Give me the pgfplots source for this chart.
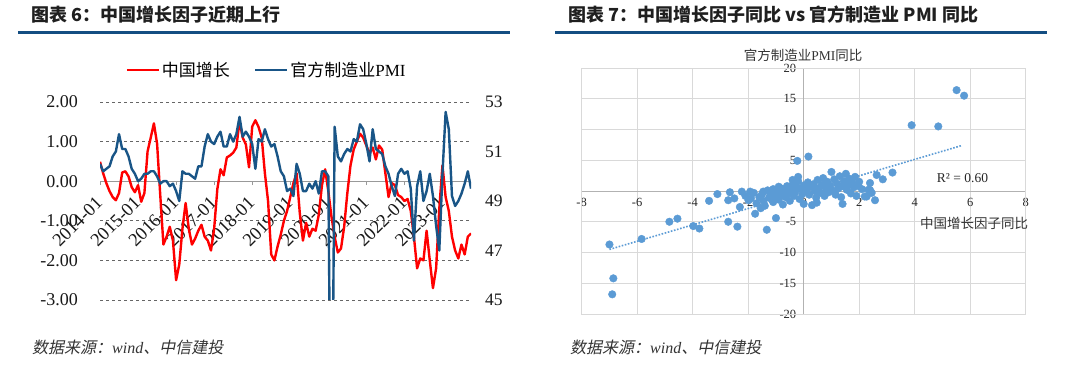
\documentclass[border=0pt]{standalone}
\usepackage{fontspec}
\setmainfont{Liberation Serif}
\newfontfamily\cjk{Noto Sans CJK SC}
\newfontfamily\cjkit{Noto Sans CJK SC}[FakeSlant=0.2]
\usepackage{pgfplots}
\pgfplotsset{compat=1.18}
\usepackage{pgfplotstable}
\definecolor{cred}{RGB}{255,0,0}
\definecolor{cblue}{RGB}{25,85,135}
\definecolor{rulec}{RGB}{20,78,130}
\definecolor{sblue}{RGB}{91,155,213}

\pgfplotstableread{
m g
0 0.49
1 0.20
2 -0.05
3 -0.25
4 -0.40
5 -0.48
6 -0.30
7 0.22
8 0.25
9 0.12
10 -0.15
11 -0.28
12 -0.10
13 -0.52
14 -0.30
15 0.75
16 1.10
17 1.46
18 0.95
19 -0.35
20 -1.60
21 -1.40
22 -1.15
23 -1.50
24 -2.50
25 -2.10
26 -1.20
27 -0.55
28 -1.20
29 -1.60
30 -1.45
31 -1.25
32 -1.10
33 -1.40
34 -1.50
35 -1.75
36 -1.20
37 -0.20
38 0.30
39 0.15
40 0.60
41 0.65
42 0.72
43 0.85
44 1.52
45 1.10
46 0.93
47 0.35
48 1.38
49 1.54
50 1.37
51 1.10
52 0.20
53 -0.50
54 -1.85
55 -2.00
56 -1.65
57 -1.35
58 -1.00
59 -0.75
60 -0.40
61 -0.05
62 0.20
63 -0.80
64 -1.50
65 -1.05
66 -1.40
67 -1.20
68 -1.25
69 -0.85
70 -0.10
71 0.30
72 -0.25
73 -0.90
74 -1.40
75 -1.80
76 -1.70
77 -1.15
78 -0.30
79 0.40
80 0.80
81 1.00
82 1.20
83 1.10
84 0.90
85 0.70
86 0.85
87 0.55
88 0.90
89 0.80
90 0.20
91 -0.40
92 -0.05
93 -0.10
94 -0.35
95 -0.40
96 -0.50
97 -0.45
98 -0.75
99 -1.40
100 -2.20
101 -1.95
102 -2.00
103 -1.25
104 -2.00
105 -2.70
106 -2.20
107 -0.70
108 0.40
109 -0.40
110 -0.75
111 -1.40
112 -1.75
113 -1.95
114 -1.60
115 -1.85
116 -1.40
117 -1.32
}\growth

\pgfplotstableread{
m p
0 50.5
1 50.2
2 50.3
3 50.4
4 50.8
5 51.0
6 51.7
7 51.1
8 51.1
9 50.8
10 50.3
11 50.1
12 49.8
13 49.9
14 50.1
15 50.1
16 50.2
17 50.2
18 50.0
19 49.7
20 49.8
21 49.8
22 49.6
23 49.7
24 49.4
25 49.0
26 50.2
27 50.1
28 50.1
29 50.0
30 49.9
31 50.4
32 50.4
33 51.2
34 51.7
35 51.4
36 51.3
37 51.6
38 51.8
39 51.2
40 51.2
41 51.7
42 51.4
43 51.7
44 52.4
45 51.6
46 51.8
47 51.6
48 51.3
49 50.3
50 51.5
51 51.4
52 51.9
53 51.5
54 51.2
55 51.3
56 50.8
57 50.2
58 50.0
59 49.4
60 49.5
61 49.2
62 50.5
63 50.1
64 49.4
65 49.4
66 49.7
67 49.5
68 49.8
69 49.3
70 50.2
71 50.2
72 50.0
73 35.7
74 52.0
75 50.8
76 50.6
77 50.9
78 51.1
79 51.0
80 51.5
81 51.4
82 52.1
83 51.9
84 51.3
85 50.6
86 51.9
87 51.1
88 51.0
89 50.9
90 50.4
91 50.1
92 49.6
93 49.2
94 50.1
95 50.3
96 50.1
97 50.2
98 49.5
99 47.4
100 49.6
101 50.2
102 49.0
103 49.4
104 50.1
105 49.2
106 48.0
107 47.0
108 50.1
109 52.6
110 51.9
111 49.2
112 48.8
113 49.0
114 49.3
115 49.7
116 50.2
117 49.5
}\pmi

\pgfplotstableread{
x y
-7.0 -8.7
-6.86 -14.2
-6.9 -16.8
-5.84 -7.8
-4.84 -5.0
-4.55 -4.5
-3.98 -5.7
-3.76 -6.1
-3.41 -1.6
-3.11 -0.5
-2.72 -1.5
-2.66 -0.2
-2.72 -5.0
-2.39 -5.8
-2.3 -2.6
-2.23 -0.1
-1.93 -0.1
-1.99 -1.5
-1.75 -3.7
-1.33 -6.3
-1.0 -4.4
-0.23 4.9
0.17 5.6
5.51 16.4
5.78 15.5
3.89 10.7
4.85 10.5
3.2 3.0
2.85 1.9
2.63 2.6
2.57 -1.5
1.0 3.1
1.4 -2.1
2.39 0.16
2.27 -0.9
-2.5 -1.2
-1.55 -2.8
-2.1 -0.8
-1.9 -1.2
-1.8 -0.3
-1.7 -2.0
-1.6 -1.0
-1.5 -0.5
-1.45 -1.6
-1.4 -2.4
-1.46 -0.1
-1.3 0.1
-1.25 -1.1
-1.2 -0.6
-1.1 -1.8
-1.1 0.3
-1.05 0.2
-1.0 -0.9
-0.95 -0.2
-0.9 -1.4
-0.9 0.7
-0.85 0.5
-0.8 -0.5
-0.75 -2.2
-0.7 0.3
-0.65 -1.0
-0.6 0.8
-0.55 -0.4
-0.5 -1.6
-0.5 0.5
-0.45 0.1
-0.4 1.0
-0.4 1.8
-0.35 -0.8
-0.3 -0.1
-0.25 0.6
-0.2 1.6
-0.2 2.3
-0.15 -1.3
-0.1 0.4
-0.05 -0.5
0.0 0.9
0.0 -2.1
0.1 0.2
0.15 1.4
0.2 -0.6
0.25 0.7
0.3 -2.3
0.35 1.1
0.4 0.0
0.45 -1.1
0.47 -1.9
0.5 1.8
0.55 0.5
0.6 -0.3
0.65 1.0
0.7 2.1
0.75 -0.8
0.8 0.4
0.85 1.5
0.9 -0.2
0.95 0.9
1.05 0.1
1.1 1.9
1.15 -0.6
1.2 1.2
1.25 0.4
1.3 2.4
1.35 -1.0
1.4 0.8
1.45 1.6
1.52 2.8
1.55 0.2
1.6 1.1
1.65 2.0
1.7 -0.4
1.75 1.4
1.8 0.6
1.85 2.3
1.9 -0.8
1.97 0.8
2.0 1.5
2.1 0.3
2.2 -0.9
2.33 0.2
2.39 1.3
2.45 -0.3
}\scat

\begin{document}
\begin{tikzpicture}[x=1pt,y=1pt]
\fill[white] (0,0) rectangle (1080,365);

% ---------- titles and rules ----------
\node[anchor=west, inner sep=0pt, text=black!88, font=\cjk\bfseries\fontsize{18}{20}\selectfont] at (31,350) {图表 6：中国增长因子近期上行};
\draw[rulec, line width=3pt] (18,332.7) -- (510,332.7);
\node[anchor=west, inner sep=0pt, text=black!88, font=\cjk\bfseries\fontsize{18}{20}\selectfont] at (568,350) {图表 7：中国增长因子同比 vs 官方制造业 PMI 同比};
\draw[rulec, line width=3pt] (555,332.7) -- (1047,332.7);

% ---------- footers ----------
\node[anchor=west, inner sep=0pt, text=black!80, font=\fontsize{16}{18}\selectfont] at (32,18) {{\cjkit 数据来源：}\textit{wind}{\cjkit 、中信建投}};
\node[anchor=west, inner sep=0pt, text=black!80, font=\fontsize{16}{18}\selectfont] at (570,18) {{\cjkit 数据来源：}\textit{wind}{\cjkit 、中信建投}};

% ---------- left chart: growth factor ----------
\begin{axis}[
  at={(100pt,65pt)}, anchor=south west,
  width=371pt, height=198pt, scale only axis,
  xmin=0, xmax=117, ymin=-3, ymax=2,
  axis x line=middle, axis y line=left,
  hide obscured x ticks=false, hide obscured y ticks=false,
  x axis line style={-, draw=black!40, line width=1.3pt},
  y axis line style={draw=none},
  xtick={0,12,...,108},
  xticklabels={2014-01,2015-01,2016-01,2017-01,2018-01,2019-01,2020-01,2021-01,2022-01,2023-01},
  xticklabel style={yshift=-14pt, rotate=45, anchor=east, font=\fontsize{18.5}{18.5}\selectfont, inner sep=1pt, text=black!90},
  xtick style={draw=black!40, line width=0.8pt},
  tick align=outside, major tick length=4pt,
  ytick={-3,-2,...,2},
  ytick style={draw=none},
  yticklabel style={font=\fontsize{18}{18}\selectfont, text=black!90, inner sep=0pt, xshift=-18pt},
  /pgf/number format/assume math mode=true,
  y tick label style={/pgf/number format/.cd, fixed, fixed zerofill, precision=2},
  ymajorgrids, grid style={dashed, black!60, line width=0.7pt},
  legend style={at={(0.449,1.162)}, anchor=center, draw=none, fill=none, legend columns=2,
    font=\fontsize{17}{19}\selectfont, inner sep=0pt,
    /tikz/every even column/.append style={column sep=22pt}},
  legend image code/.code={\draw[#1] (0pt,0pt) -- (32pt,0pt);},
]
\addplot[cred, line width=2.4pt, line join=round] table[x=m,y=g]{\growth};
\addlegendentry{{\cjk 中国增长}}
\addlegendimage{cblue, line width=2.4pt}
\addlegendentry{{\cjk 官方制造业}PMI}
\end{axis}

% ---------- left chart: PMI (right axis) ----------
\begin{axis}[
  at={(100pt,65pt)}, anchor=south west,
  width=371pt, height=198pt, scale only axis,
  xmin=0, xmax=117, ymin=45, ymax=53,
  axis y line*=right, axis x line=none,
  y axis line style={draw=none},
  xtick=\empty,
  ytick={45,47,...,53}, ytick style={draw=none},
  /pgf/number format/assume math mode=true,
  yticklabel style={font=\fontsize{17.5}{17.5}\selectfont, text=black!90, anchor=west, inner sep=0pt, xshift=14pt},
]
\addplot[cblue, line width=2.4pt, line join=round] table[x=m,y=p]{\pmi};
\end{axis}

% ---------- right chart: scatter ----------
\begin{axis}[
  at={(581.7pt,51pt)}, anchor=south west,
  width=444pt, height=246pt, scale only axis,
  xmin=-8, xmax=8, ymin=-20, ymax=20,
  axis lines=middle,
  hide obscured x ticks=false, hide obscured y ticks=false,
  axis line style={-, draw=black!30, line width=1pt},
  xtick={-8,-6,...,8}, ytick={-20,-15,...,20},
  major tick length=0pt,
  grid=major, grid style={black!15, line width=0.9pt},
  /pgf/number format/assume math mode=true,
  xticklabel style={font=\fontsize{12.5}{13}\selectfont, text=black!85, yshift=-4pt},
  yticklabel style={font=\fontsize{12.5}{13}\selectfont, text=black!85, xshift=-4pt},
  clip=false,
]
\draw[black!15, line width=0.9pt] (rel axis cs:0,0) rectangle (rel axis cs:1,1);
\addplot[only marks, mark=*, mark size=3.8pt, mark options={fill=sblue, draw=sblue}] table[x=x,y=y]{\scat};
\addplot[sblue, line width=1.6pt, dash pattern=on 1.6pt off 1.6pt] coordinates {(-7,-9.5) (5.7,7.4)};
\end{axis}

\node[text=black!80, font=\fontsize{13.5}{15}\selectfont, inner sep=0pt] at (803,310) {{\cjk 官方制造业}PMI{\cjk 同比}};
\node[text=black!80, font=\cjk\fontsize{13.5}{15}\selectfont, inner sep=0pt] at (974,142) {中国增长因子同比};
\node[text=black!85, font=\fontsize{13.5}{15}\selectfont, inner sep=0pt] at (962.5,187) {R² = 0.60};
\end{tikzpicture}
\end{document}
